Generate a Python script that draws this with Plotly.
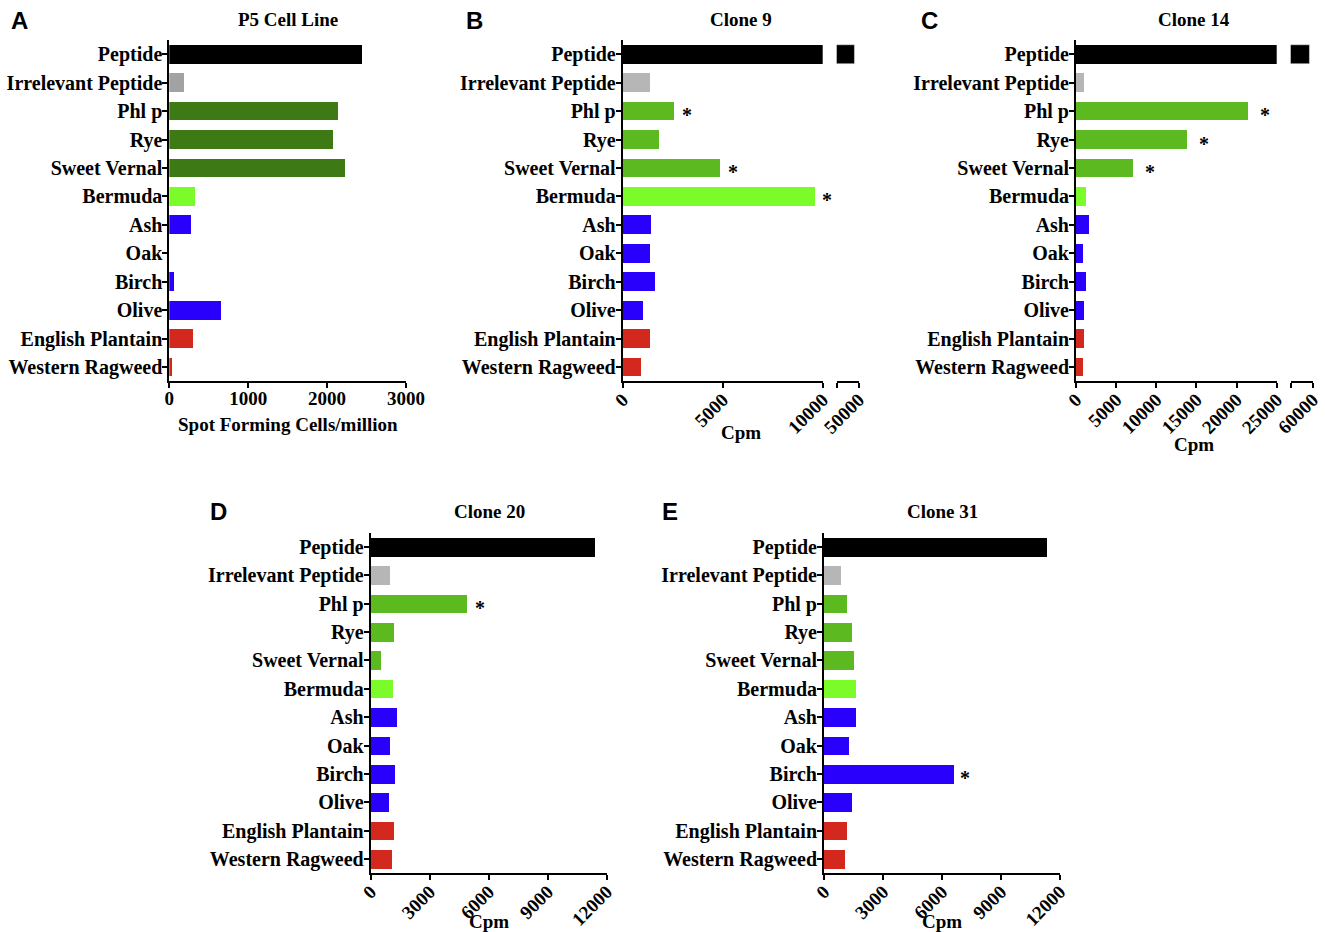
import plotly.graph_objects as go

W, H = 1325, 932

categories = ["Peptide", "Irrelevant Peptide", "Phl p", "Rye", "Sweet Vernal", "Bermuda",
              "Ash", "Oak", "Birch", "Olive", "English Plantain", "Western Ragweed"]

# values
p5_sfc = [2440, 190, 2142, 2075, 2227, 326, 279, 0, 60, 655, 300, 35]
clone9_cpm = [48300, 1333, 2550, 1800, 4870, 9580, 1420, 1330, 1580, 980, 1330, 920]
clone14_cpm = [58800, 1000, 21470, 13870, 7060, 1290, 1580, 910, 1200, 1000, 1040, 910]
clone20_cpm = [11400, 966, 4880, 1169, 508, 1100, 1322, 966, 1237, 898, 1169, 1050]
clone31_cpm = [11320, 881, 1153, 1407, 1542, 1627, 1644, 1254, 6593, 1424, 1153, 1085]

clone9_stars = ["Phl p", "Sweet Vernal", "Bermuda"]
clone14_stars = ["Phl p", "Rye", "Sweet Vernal"]
clone20_stars = ["Phl p"]
clone31_stars = ["Birch"]

titles = ["P5 Cell Line", "Clone 9", "Clone 14", "Clone 20", "Clone 31"]
letters = ["A", "B", "C", "D", "E"]

ticks_a = [0, 1000, 2000, 3000]
ticks_b = [0, 5000, 10000]
ticks_b_break = [40000, 50000]
ticks_c = [0, 5000, 10000, 15000, 20000, 25000]
ticks_c_break = [50000, 60000]
ticks_de = [0, 3000, 6000, 9000, 12000]

BLACK = "#000000"
GRAY_A = "#a2a2a2"
GRAY = "#b6b6b6"
DKGREEN = "#3d7a16"
GREEN = "#5cb91f"
LTGREEN = "#7bfb2a"
BLUE = "#2800fb"
RED = "#d2281d"

colors_a = [BLACK, GRAY_A, DKGREEN, DKGREEN, DKGREEN, LTGREEN, BLUE, BLUE, BLUE, BLUE, RED, RED]
colors_b = [BLACK, GRAY, GREEN, GREEN, GREEN, LTGREEN, BLUE, BLUE, BLUE, BLUE, RED, RED]

SERIF = "Liberation Serif"
SANS = "Liberation Sans"
FS = 19


def px_x(a, b):
    return [a / W, b / W]


def px_y(top, bottom):
    return [1 - bottom / H, 1 - top / H]


top_dom = px_y(40, 381.3)
bot_dom = px_y(532.7, 873.3)

axis_common = dict(showline=True, linecolor="black", linewidth=2, ticks="outside",
                   ticklen=5, tickwidth=2, tickcolor="black", showgrid=False, zeroline=False,
                   automargin=False,
                   tickfont=dict(family=SERIF, size=FS, color="black", weight="bold"))

fig = go.Figure()

BARW = 0.66


def add_bars(vals, colors, xa, ya):
    fig.add_trace(go.Bar(x=vals, y=categories, orientation="h", marker=dict(color=colors, line=dict(width=0)),
                         width=BARW, xaxis=xa, yaxis=ya, hoverinfo="x+y"))


# A
add_bars(p5_sfc, colors_a, "x", "y")
# B main + break
add_bars(clone9_cpm, colors_b, "x2", "y2")
fig.add_trace(go.Bar(x=clone9_cpm[:1], y=categories[:1], orientation="h", marker=dict(color=BLACK),
                     width=BARW, xaxis="x3", yaxis="y2"))
# C main + break
add_bars(clone14_cpm, colors_b, "x4", "y3")
fig.add_trace(go.Bar(x=clone14_cpm[:1], y=categories[:1], orientation="h", marker=dict(color=BLACK),
                     width=BARW, xaxis="x5", yaxis="y3"))
# D, E
add_bars(clone20_cpm, colors_b, "x6", "y4")
add_bars(clone31_cpm, colors_b, "x7", "y5")


def yaxis(dom, anchor):
    d = dict(axis_common)
    d.update(domain=dom, anchor=anchor, type="category", categoryorder="array",
             categoryarray=categories, range=[11.5, -0.5], ticklabelstandoff=-4,
             tickfont=dict(family=SERIF, size=20, color="black", weight="bold"))
    return d


def xaxis(dom, anchor, tickvals, angle=0, hide_first=False, standoff=-7):
    d = dict(axis_common)
    text = [str(v) for v in tickvals]
    if hide_first:
        text[0] = ""
    d.update(domain=dom, anchor=anchor, range=[tickvals[0], tickvals[-1]], tickvals=tickvals,
             ticktext=text, tickangle=angle, ticklabelstandoff=standoff)
    return d


fig.update_layout(
    width=W, height=H, margin=dict(l=0, r=0, t=0, b=0, autoexpand=False),
    paper_bgcolor="white", plot_bgcolor="white", showlegend=False, bargap=0,
    xaxis=xaxis(px_x(169.3, 406), "y", ticks_a, standoff=-6),
    yaxis=yaxis(top_dom, "x"),
    xaxis2=xaxis(px_x(622.7, 822.7), "y2", ticks_b, angle=-45),
    xaxis3=xaxis(px_x(836.7, 858.7), "y2", ticks_b_break, angle=-45, hide_first=True),
    yaxis2=yaxis(top_dom, "x2"),
    xaxis4=xaxis(px_x(1076, 1276.7), "y3", ticks_c, angle=-45),
    xaxis5=xaxis(px_x(1290.7, 1312.7), "y3", ticks_c_break, angle=-45, hide_first=True),
    yaxis3=yaxis(top_dom, "x4"),
    xaxis6=xaxis(px_x(370.7, 606.7), "y4", ticks_de, angle=-45),
    yaxis4=yaxis(bot_dom, "x6"),
    xaxis7=xaxis(px_x(824, 1060), "y5", ticks_de, angle=-45),
    yaxis5=yaxis(bot_dom, "x7"),
)

ann = []
# stars
for stars, vals, xr, yr, shift in [(clone9_stars, clone9_cpm, "x2", "y2", 13),
                                   (clone14_stars, clone14_cpm, "x4", "y3", 17),
                                   (clone20_stars, clone20_cpm, "x6", "y4", 13),
                                   (clone31_stars, clone31_cpm, "x7", "y5", 11)]:
    for c in stars:
        v = vals[categories.index(c)]
        ann.append(dict(x=v, y=c, xref=xr, yref=yr, text="*", showarrow=False, xanchor="center",
                        yanchor="middle", xshift=shift, yshift=-4,
                        font=dict(family=SERIF, size=20, color="black", weight="bold")))

# titles, letters, axis titles (paper positions in px)
title_pos = [(288, 20), (741, 20), (1194, 20), (489, 511), (942, 511)]
letter_pos = [(19, 21), (475, 21), (930, 21), (218, 511), (670, 511)]
for t, (x, y) in zip(titles, title_pos):
    ann.append(dict(x=x / W, y=1 - y / H, xref="paper", yref="paper", text=t, showarrow=False,
                    xanchor="center", yanchor="middle",
                    font=dict(family=SERIF, size=FS, color="black", weight="bold")))
for t, (x, y) in zip(letters, letter_pos):
    ann.append(dict(x=x / W, y=1 - y / H, xref="paper", yref="paper", text=t, showarrow=False,
                    xanchor="center", yanchor="middle",
                    font=dict(family=SANS, size=24, color="black", weight="bold")))
axis_titles = [("Spot Forming Cells/million", 288, 424), ("Cpm", 741, 432), ("Cpm", 1194, 444),
               ("Cpm", 489, 921), ("Cpm", 942, 921)]
for t, x, y in axis_titles:
    ann.append(dict(x=x / W, y=1 - y / H, xref="paper", yref="paper", text=t, showarrow=False,
                    xanchor="center", yanchor="middle",
                    font=dict(family=SERIF, size=FS, color="black", weight="bold")))

fig.update_layout(annotations=ann)
fig.write_html("out.html", config={"displayModeBar": False},
               post_script="document.body.style.margin='0';")
